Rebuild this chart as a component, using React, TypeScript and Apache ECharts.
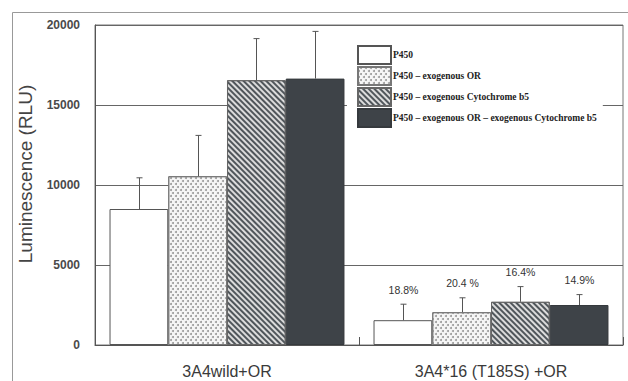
import React, { useEffect, useRef } from "react";
import * as echarts from "echarts";

const categories = ["3A4wild+OR", "3A4*16 (T185S) +OR"];
const seriesNames = [
  "P450",
  "P450 – exogenous OR",
  "P450 – exogenous Cytochrome b5",
  "P450 – exogenous OR – exogenous Cytochrome b5",
];
const p450 = [8500, 1550];
const p450OR = [10550, 2050];
const p450B5 = [16550, 2700];
const p450ORB5 = [16650, 2500];
const errTopP450 = [10450, 2550];
const errTopP450OR = [13100, 2950];
const errTopP450B5 = [19150, 3650];
const errTopP450ORB5 = [19600, 3150];
const pctP450 = ["", "18.8%"];
const pctP450OR = ["", "20.4 %"];
const pctP450B5 = ["", "16.4%"];
const pctP450ORB5 = ["", "14.9%"];
const yTicks = { min: 0, max: 20000, interval: 5000 };

const values = [p450, p450OR, p450B5, p450ORB5];
const errTops = [errTopP450, errTopP450OR, errTopP450B5, errTopP450ORB5];
const pcts = [pctP450, pctP450OR, pctP450B5, pctP450ORB5];

const GAP = 0.11;

export default function App() {
  const ref = useRef<HTMLDivElement>(null);
  useEffect(() => {
    document.body.style.margin = "0";
    const chart = echarts.init(ref.current!, null, { renderer: "svg" });
    const styles = [
      { color: "#ffffff", borderColor: "#555", borderWidth: 1 },
      {
        color: "#f6f6f6",
        borderColor: "#777",
        borderWidth: 1,
        decal: {
          symbol: "circle",
          symbolSize: 1,
          dashArrayX: [[1.3, 2.7], [0, 2, 1.3, 0.7]],
          dashArrayY: [1.3, 0.7],
          color: "#999",
        },
      },
      {
        color: "#dcdcdc",
        borderColor: "#666",
        borderWidth: 1,
        decal: {
          symbol: "rect",
          symbolSize: 1,
          dashArrayX: [1, 0],
          dashArrayY: [1.2, 1.3],
          rotation: Math.PI / 4,
          color: "#50565b",
        },
      },
      { color: "#3e4348", borderColor: "#35393d", borderWidth: 1 },
    ];
    const barSeries = seriesNames.map((name, i) => ({
      name,
      type: "bar",
      data: values[i],
      barGap: "0%",
      barCategoryGap: GAP * 100 + "%",
      itemStyle: styles[i],
      z: 2,
    }));
    const errData: any[] = [];
    values.forEach((arr, si) => {
      arr.forEach((v, ci) => {
        errData.push([ci, si, v, errTops[si][ci], pcts[si][ci]]);
      });
    });
    const errSeries = {
      type: "custom",
      name: "err",
      z: 5,
      encode: { x: 0, y: 3 },
      data: errData,
      renderItem: (params: any, api: any) => {
        const ci = api.value(0);
        const si = api.value(1);
        const v = api.value(2);
        const e = api.value(3);
        const label = errData[params.dataIndex][4];
        const band = api.size([1, 0])[0];
        const bw = (band * (1 - GAP)) / 4;
        const p0 = api.coord([ci, v]);
        const p1 = api.coord([ci, e]);
        const x = Math.round(p0[0] + (si - 1.5) * bw) + 0.5;
        const lineStyle = { stroke: "#555", lineWidth: 1 };
        const children: any[] = [
          { type: "line", shape: { x1: x, y1: p0[1], x2: x, y2: p1[1] }, style: lineStyle },
          { type: "line", shape: { x1: x - 3, y1: p1[1], x2: x + 3, y2: p1[1] }, style: lineStyle },
        ];
        if (label) {
          children.push({
            type: "text",
            style: {
              text: label,
              x,
              y: p1[1] - 9,
              align: "center",
              verticalAlign: "bottom",
              fontSize: 10.5,
              fontFamily: "Liberation Sans",
              fill: "#333",
            },
          });
        }
        return { type: "group", children };
      },
    };
    chart.setOption({
      animation: false,
      backgroundColor: "#fff",
      grid: {
        left: 95,
        right: 5,
        top: 25,
        bottom: 36,
        show: true,
        borderColor: "#777",
        borderWidth: 1,
      },
      legend: {
        orient: "vertical",
        left: 347,
        top: 45,
        padding: [0, 6, 2, 10],
        backgroundColor: "#fff",
        icon: "rect",
        itemWidth: 33,
        itemHeight: 18,
        itemGap: 1,
        data: seriesNames,
        textStyle: {
          fontFamily: "Liberation Serif",
          fontWeight: "bold",
          fontSize: 9.5,
          color: "#222",
          padding: [0, 0, 0, -3],
        },
      },
      xAxis: {
        type: "category",
        data: categories,
        axisLine: { lineStyle: { color: "#555" } },
        axisTick: { show: true, inside: true, length: 8, lineStyle: { color: "#555" } },
        axisLabel: {
          fontSize: 16,
          fontFamily: "Liberation Sans",
          color: "#3a3a3a",
          margin: 18,
        },
      },
      yAxis: {
        type: "value",
        min: yTicks.min,
        max: yTicks.max,
        interval: yTicks.interval,
        name: "Luminescence (RLU)",
        nameLocation: "middle",
        nameGap: 60,
        nameTextStyle: {
          fontSize: 19,
          fontFamily: "Liberation Sans",
          color: "#444",
          padding: [0, 0, 0, 22],
        },
        axisLine: { show: true, lineStyle: { color: "#555" } },
        axisTick: { show: false },
        axisLabel: {
          fontSize: 12,
          fontWeight: "bold",
          fontFamily: "Liberation Sans",
          color: "#4a4a4a",
          margin: 15,
          formatter: (v: number) => String(v),
        },
        splitLine: { show: true, lineStyle: { color: "#666", width: 1 } },
      },
      graphic: [
        {
          type: "rect",
          shape: { x: 12.5, y: 12.5, width: 700, height: 500 },
          style: { fill: "none", stroke: "#999", lineWidth: 1 },
          silent: true,
        },
      ],
      series: [...barSeries, errSeries],
    });
    return () => chart.dispose();
  }, []);
  return <div ref={ref} style={{ width: 628, height: 381 }} />;
}
